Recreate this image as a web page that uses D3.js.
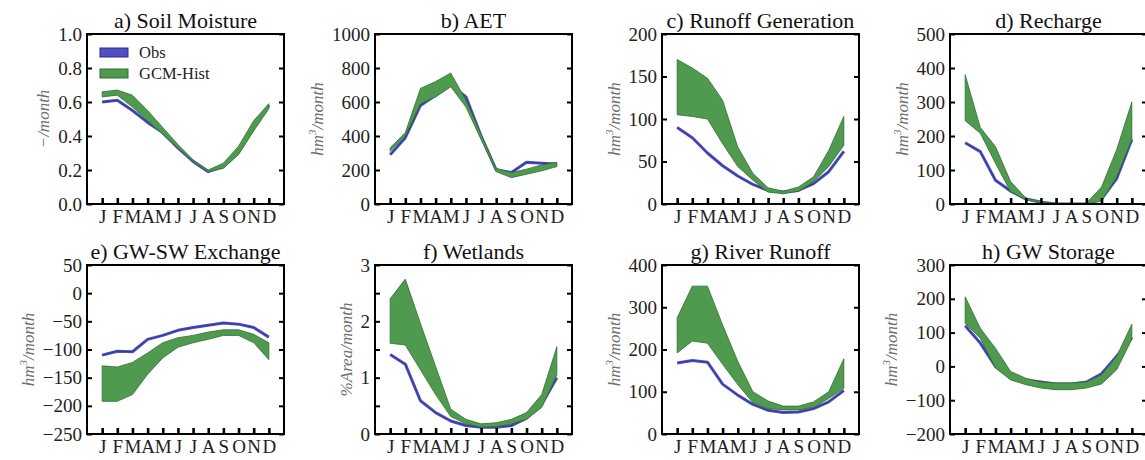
<!DOCTYPE html>
<html><head><meta charset="utf-8">
<script src="https://cdn.jsdelivr.net/npm/d3@7"></script>
<style>body{margin:0;background:#fff}svg{display:block}svg text{font-family:"Liberation Serif","DejaVu Serif",serif !important}</style>
</head><body><svg id="c" width="1145" height="460"></svg>
<script>
const months = ["J","F","M","A","M","J","J","A","S","O","N","D"];

// a) Soil Moisture
const soilObs   = [0.60,0.61,0.55,0.48,0.42,0.33,0.25,0.19,0.22,0.31,0.45,0.58];
const soilGcmLo = [0.63,0.64,0.57,0.49,0.41,0.33,0.25,0.19,0.21,0.29,0.43,0.56];
const soilGcmHi = [0.66,0.67,0.64,0.55,0.45,0.35,0.26,0.20,0.24,0.34,0.49,0.59];
// b) AET
const aetObs   = [290,390,580,640,700,630,400,200,185,245,240,235];
const aetGcmLo = [310,400,590,630,690,570,380,190,155,175,195,220];
const aetGcmHi = [330,420,680,720,770,610,410,210,185,205,230,245];
// c) Runoff Generation
const runObs   = [90,78,60,45,33,23,16,14,16,24,38,62];
const runGcmLo = [105,103,100,71,44,28,14,12,15,26,44,69];
const runGcmHi = [170,160,148,122,67,36,19,15,20,32,63,103];
// d) Recharge
const rechObs   = [180,154,70,38,15,5,0,0,0,15,75,190];
const rechGcmLo = [245,208,120,36,12,4,0,0,0,8,80,190];
const rechGcmHi = [380,225,169,66,18,8,2,0,2,50,160,300];
// e) GW-SW Exchange
const gwswObs   = [-110,-103,-104,-82,-75,-66,-61,-57,-53,-55,-61,-78];
const gwswGcmLo = [-192,-192,-180,-144,-115,-96,-88,-82,-75,-75,-88,-118];
const gwswGcmHi = [-129,-131,-123,-106,-88,-79,-75,-69,-65,-65,-73,-88];
// f) Wetlands
const wetObs   = [1.41,1.24,0.59,0.38,0.23,0.15,0.12,0.12,0.15,0.28,0.53,1.00];
const wetGcmLo = [1.61,1.58,1.14,0.70,0.31,0.18,0.12,0.13,0.18,0.26,0.47,1.05];
const wetGcmHi = [2.40,2.75,1.96,1.20,0.44,0.26,0.18,0.20,0.26,0.38,0.70,1.55];
// g) River Runoff
const rivObs   = [168,174,170,118,92,70,56,51,52,60,76,103];
const rivGcmLo = [192,220,215,165,117,74,60,57,57,63,84,108];
const rivGcmHi = [275,350,350,258,172,100,78,66,66,76,100,178];
// h) GW Storage
const stoObs   = [120,69,0,-30,-40,-46,-52,-52,-46,-22,30,85];
const stoGcmLo = [128,83,-5,-40,-54,-64,-69,-69,-64,-52,-10,80];
const stoGcmHi = [206,113,54,-15,-35,-46,-49,-49,-46,-25,30,125];

const titles = ["a) Soil Moisture","b) AET","c) Runoff Generation","d) Recharge",
                "e) GW-SW Exchange","f) Wetlands","g) River Runoff","h) GW Storage"];
const yDomains = [[0,1],[0,1000],[0,200],[0,500],[-250,50],[0,3],[0,400],[-200,300]];
const yTicks = [[0,0.2,0.4,0.6,0.8,1.0],[0,200,400,600,800,1000],[0,50,100,150,200],[0,100,200,300,400,500],
                [-250,-200,-150,-100,-50,0,50],[0,0.5,1,1.5,2,2.5,3],[0,100,200,300,400],[-200,-100,0,100,200,300]];
const yUnits = ["−/month","hm3/month","hm3/month","hm3/month","hm3/month","%Area/month","hm3/month","hm3/month"];

const panels = [
  [soilObs,soilGcmLo,soilGcmHi],[aetObs,aetGcmLo,aetGcmHi],[runObs,runGcmLo,runGcmHi],[rechObs,rechGcmLo,rechGcmHi],
  [gwswObs,gwswGcmLo,gwswGcmHi],[wetObs,wetGcmLo,wetGcmHi],[rivObs,rivGcmLo,rivGcmHi],[stoObs,stoGcmLo,stoGcmHi]
];

const FONT = '"Liberation Serif","DejaVu Serif",serif';
const svg = d3.select("#c").attr("font-family", FONT);
const lefts = [87,375,662,950], tops = [34,265], heights = [170,169], pw = 197;
const obsFill = "#5050c0", obsEdge = "#2a2a8c", gcmFill = "#4f9a4f", gcmEdge = "#2e6e2e";
const minus = s => String(s).replace("-", "−");

panels.forEach((p, k) => {
  const row = Math.floor(k/4), col = k%4;
  const L = lefts[col], T = tops[row], h = heights[row];
  const x = d3.scaleLinear().domain([-1,12]).range([L, L+pw]);
  const y = d3.scaleLinear().domain(yDomains[k]).range([T+h, T]);
  const g = svg.append("g");
  const cid = "clip"+k;
  g.append("clipPath").attr("id",cid).append("rect").attr("x",L).attr("y",T).attr("width",pw).attr("height",h);
  const plot = g.append("g").attr("clip-path",`url(#${cid})`);
  const [obs, lo, hi] = p;
  plot.append("path").datum(obs)
    .attr("d", d3.line().x((d,i)=>x(i)).y(d=>y(d)))
    .attr("fill","none").attr("stroke",obsFill).attr("stroke-width",3).attr("stroke-linejoin","round");
  plot.append("path").datum(obs)
    .attr("d", d3.line().x((d,i)=>x(i)).y(d=>y(d)))
    .attr("fill","none").attr("stroke",obsEdge).attr("stroke-width",1).attr("stroke-opacity",0.7);
  plot.append("path").datum(d3.range(12))
    .attr("d", d3.area().x(i=>x(i)).y0(i=>y(lo[i])).y1(i=>y(hi[i])))
    .attr("fill",gcmFill).attr("stroke",gcmEdge).attr("stroke-width",0.8);

  // y axes
  const isF = k === 5;
  const fmt = v => {
    if (k === 0) return v.toFixed(1);
    if (isF) return Number.isInteger(v) ? String(v) : "";
    return minus(v);
  };
  const ga = g.append("g").attr("transform",`translate(${L},0)`)
    .call(d3.axisLeft(y).tickValues(yTicks[k]).tickSize(-5).tickPadding(5).tickFormat(fmt));
  ga.attr("font-family", FONT);
  ga.select(".domain").remove();
  ga.selectAll("line").attr("stroke","#000").attr("stroke-width",2);
  ga.selectAll("text").attr("font-size",19).attr("fill","#222").style("font-family",FONT);
  const gr = g.append("g").attr("transform",`translate(${L+pw},0)`)
    .call(d3.axisRight(y).tickValues(yTicks[k]).tickSize(-5).tickFormat(""));
  gr.select(".domain").remove();
  gr.selectAll("line").attr("stroke","#000").attr("stroke-width",2);
  // x axis
  const gb = g.append("g").attr("transform",`translate(0,${T+h})`)
    .call(d3.axisBottom(x).tickValues(d3.range(12)).tickSize(-6).tickPadding(6).tickFormat(i=>months[i]));
  gb.attr("font-family", FONT);
  gb.select(".domain").remove();
  gb.selectAll("line").attr("stroke","#000").attr("stroke-width",2.6);
  gb.selectAll("text").attr("font-size",19).attr("fill","#222").style("font-family",FONT);
  // frame
  g.append("rect").attr("x",L).attr("y",T).attr("width",pw).attr("height",h)
    .attr("fill","none").attr("stroke","#000").attr("stroke-width",2);
  // title
  g.append("text").attr("x",L+pw/2).attr("y",T-6).attr("text-anchor","middle")
    .attr("font-size",22).attr("fill","#111").style("font-family",FONT).text(titles[k]);
  // y label
  const bb = ga.node().getBBox();
  const lx = L + bb.x - 9, ly = T + h/2;
  const t = g.append("text").attr("transform",`translate(${lx},${ly}) rotate(-90)`)
    .attr("text-anchor","middle").attr("font-size",17).attr("font-style","italic").attr("fill","#707070")
    .style("font-family",FONT);
  const u = yUnits[k];
  if (u.indexOf("hm3") === 0) {
    t.append("tspan").text("hm");
    t.append("tspan").attr("dy",-7).attr("font-size",11).text("3");
    t.append("tspan").attr("dy",7).text("/month");
  } else t.text(u);
});

// legend
const leg = svg.append("g");
[["Obs",obsFill,obsEdge,48],["GCM-Hist",gcmFill,gcmEdge,69]].forEach(([name,f,s,yy])=>{
  leg.append("rect").attr("x",100).attr("y",yy).attr("width",28).attr("height",9)
    .attr("fill",f).attr("stroke",s).attr("stroke-width",1);
  leg.append("text").attr("x",139).attr("y",yy+10).attr("font-size",16.5).attr("fill","#222")
    .style("font-family",FONT).text(name);
});
</script></body></html>
